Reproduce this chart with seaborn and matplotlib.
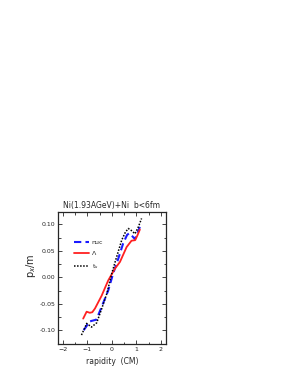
import matplotlib
matplotlib.use("Agg")
import matplotlib.pyplot as plt
import seaborn as sns
import pandas as pd
from matplotlib.ticker import MultipleLocator, FuncFormatter

sns.set_style("ticks")
plt.rcParams['font.family'] = ['DejaVu Sans']

# data
nuc_x = [-1.15, -1.03, -0.95, -0.80, -0.63, -0.42, -0.15, 0.05, 0.26, 0.46, 0.62, 0.71, 0.82, 0.94, 1.03, 1.14]
nuc_y = [-0.100, -0.092, -0.084, -0.082, -0.080, -0.056, -0.025, 0.007, 0.035, 0.064, 0.080, 0.083, 0.078, 0.072, 0.082, 0.095]

lam_x = [-1.17, -1.03, -0.90, -0.80, -0.69, -0.42, -0.15, 0.12, 0.33, 0.60, 0.80, 0.95, 1.05, 1.14]
lam_y = [-0.078, -0.065, -0.067, -0.066, -0.059, -0.035, -0.006, 0.016, 0.029, 0.057, 0.069, 0.070, 0.080, 0.090]

ts_x = [-1.24, -1.10, -1.03, -0.83, -0.62, -0.42, -0.20, 0.00, 0.19, 0.40, 0.55, 0.67, 0.80, 0.94, 1.08, 1.21]
ts_y = [-0.109, -0.095, -0.087, -0.094, -0.086, -0.060, -0.030, 0.008, 0.038, 0.070, 0.085, 0.092, 0.088, 0.082, 0.095, 0.111]

labels = ["nuc", "Λ", "t$_s$"]

df = pd.concat([
    pd.DataFrame({"x": nuc_x, "y": nuc_y, "s": labels[0]}),
    pd.DataFrame({"x": lam_x, "y": lam_y, "s": labels[1]}),
    pd.DataFrame({"x": ts_x, "y": ts_y, "s": labels[2]}),
])

fig = plt.figure(figsize=(2.91, 3.76), dpi=100)
ax = fig.add_axes([0.199, 0.085, 0.371, 0.351])

styles = {labels[0]: dict(color="#1a1aff", ls=(0, (3.5, 2)), lw=1.5),
          labels[1]: dict(color="#ff2020", ls="-", lw=1.3),
          labels[2]: dict(color="black", ls=(0, (1, 1)), lw=1.1)}
for lab in labels:
    sub = df[df.s == lab]
    sns.lineplot(data=sub, x="x", y="y", ax=ax, sort=False, estimator=None,
                 label=lab, color=styles[lab]["color"], linestyle=styles[lab]["ls"],
                 linewidth=styles[lab]["lw"])

ax.set_xlim(-2.2, 2.2)
ax.set_ylim(-0.126, 0.123)
ax.xaxis.set_major_locator(MultipleLocator(1))
ax.xaxis.set_minor_locator(MultipleLocator(0.5))
ax.yaxis.set_major_locator(MultipleLocator(0.05))
ax.yaxis.set_minor_locator(MultipleLocator(0.025))
ax.tick_params(which="both", direction="in", top=True, right=True, labelsize=4.5,
               width=0.6, pad=2)
ax.tick_params(which="major", length=3)
ax.tick_params(which="minor", length=1.8)
ax.yaxis.set_major_formatter(FuncFormatter(lambda v, p: f"{v:.2f}"))
for sp in ax.spines.values():
    sp.set_linewidth(0.9)

ax.set_xlabel("rapidity  (CM)", fontsize=5.5, labelpad=4)
ax.set_ylabel("p$_x$/m", fontsize=7)
ax.yaxis.set_label_coords(-0.18, 0.59)
ax.set_title("Ni(1.93AGeV)+Ni  b<6fm", fontsize=5.5, pad=3)

leg = ax.legend(loc="upper left", bbox_to_anchor=(0.1, 0.83), frameon=False,
                fontsize=4.5, handlelength=2.4, labelspacing=0.9, handletextpad=0.4)

fig.savefig("out.png", dpi=100)
